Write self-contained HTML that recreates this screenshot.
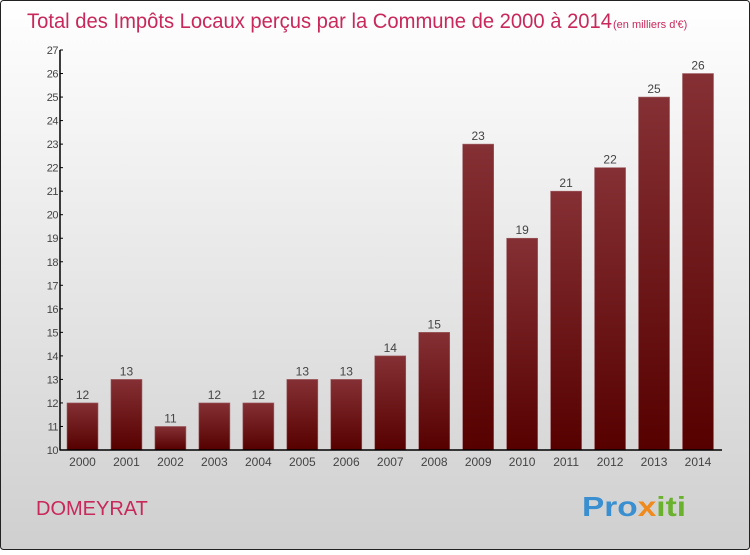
<!DOCTYPE html>
<html><head><meta charset="utf-8"><style>
body{margin:0;width:750px;height:550px;overflow:hidden;font-family:"Liberation Sans",sans-serif}
</style></head><body>
<svg id="c" width="750" height="550" xmlns="http://www.w3.org/2000/svg">
<defs>
<linearGradient id="bg" x1="0" y1="0" x2="0" y2="1"><stop offset="0" stop-color="#ffffff"/><stop offset="1" stop-color="#cfcfcf"/></linearGradient>
<linearGradient id="bar" x1="0" y1="0" x2="0" y2="1"><stop offset="0" stop-color="#853034"/><stop offset="1" stop-color="#560000"/></linearGradient>
</defs>
<rect x="0.5" y="0.5" width="749" height="549" rx="3" fill="url(#bg)" stroke="#222"/>
<text x="27" y="28" font-size="21" fill="#c8285a" textLength="585" lengthAdjust="spacingAndGlyphs">Total des Impôts Locaux perçus par la Commune de 2000 à 2014</text>
<text x="613" y="28" font-size="11" fill="#c8285a">(en milliers d'€)</text>
<text x="36" y="515" font-size="20" fill="#c8285a">DOMEYRAT</text>
<text x="582" y="516" font-size="28" font-weight="bold" fill="#3a8fd0" textLength="104" lengthAdjust="spacingAndGlyphs">Pro<tspan fill="#f08a1c">x</tspan><tspan fill="#6ab22e">iti</tspan></text>
<g id="g"></g>
</svg>
<script>
const categories=["2000","2001","2002","2003","2004","2005","2006","2007","2008","2009","2010","2011","2012","2013","2014"];
const values=[12,13,11,12,12,13,13,14,15,23,19,21,22,25,26];
const yTicks=[10,11,12,13,14,15,16,17,18,19,20,21,22,23,24,25,26,27];
const NS="http://www.w3.org/2000/svg";
const g=document.getElementById('g');
const y0=450,yMin=10,yMax=27,yTop=50;
const y=v=>y0-(v-yMin)*(y0-yTop)/(yMax-yMin);
const x=i=>82.5+i*(698-82.5)/(categories.length-1);
function mk(t,a,txt){const e=document.createElementNS(NS,t);for(const k in a)e.setAttribute(k,a[k]);if(txt!==undefined)e.textContent=txt;g.appendChild(e);return e;}
values.forEach((v,i)=>{
 const r=mk('rect',{x:x(i)-15.5,y:y(v),width:31,height:y0-y(v),fill:'url(#bar)',stroke:'#a06064','stroke-width':0.6});
 
 
 const t=mk('text',{x:x(i),y:y(v)-4,'text-anchor':'middle','font-size':12,fill:'#444'},v);
 
 
 const c=mk('text',{x:x(i),y:466,'text-anchor':'middle','font-size':12,fill:'#444'},categories[i]);
 
 
});
yTicks.forEach(v=>{
 const l=mk('line',{x1:60,x2:63,y1:y(v),y2:y(v),stroke:'#000'});
 
 
 const t=mk('text',{x:58,y:y(v)+4,'text-anchor':'end','font-size':11,fill:'#444','letter-spacing':'-0.5'},v);
 
 
});
const ya=mk('line',{x1:60,x2:60,y1:y(yMax),y2:y0+0.5,stroke:'#000','stroke-width':1.5});


const xa=mk('line',{x1:60,x2:722,y1:y0,y2:y0,stroke:'#000','stroke-width':1.5});


</script>
</body></html>
